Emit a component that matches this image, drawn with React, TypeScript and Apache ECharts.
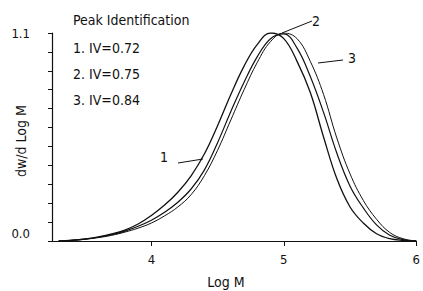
import React, { useEffect, useRef } from "react";
import * as echarts from "echarts";

const logM = [3.3, 3.4, 3.5, 3.6, 3.7, 3.8, 3.9, 4.0, 4.1, 4.2, 4.3, 4.4, 4.5, 4.6, 4.7, 4.8, 4.9, 5.0, 5.1, 5.2, 5.3, 5.4, 5.5, 5.6, 5.7, 5.8, 5.9, 6.0];
const iv072 = [0, 0.004, 0.011, 0.022, 0.037, 0.058, 0.09, 0.135, 0.19, 0.258, 0.345, 0.46, 0.61, 0.775, 0.925, 1.04, 1.1, 1.07, 0.95, 0.785, 0.55, 0.33, 0.18, 0.095, 0.038, 0.012, 0.003, 0];
const iv075 = [0, 0.004, 0.01, 0.02, 0.033, 0.052, 0.078, 0.11, 0.152, 0.205, 0.275, 0.375, 0.52, 0.685, 0.84, 0.975, 1.07, 1.095, 1.02, 0.87, 0.68, 0.465, 0.29, 0.175, 0.085, 0.03, 0.007, 0];
const iv084 = [0, 0.003, 0.009, 0.018, 0.03, 0.047, 0.068, 0.095, 0.133, 0.18, 0.245, 0.345, 0.48, 0.64, 0.8, 0.945, 1.055, 1.1, 1.07, 0.95, 0.775, 0.545, 0.355, 0.215, 0.115, 0.045, 0.012, 0];
const xTicks = [4, 5, 6];
const legendTitle = "Peak Identification";
const legendItems = ["1. IV=0.72", "2. IV=0.75", "3. IV=0.84"];
const curveLabels = ["1", "2", "3"];

const FONT = "'DejaVu Sans Condensed', 'Liberation Sans Narrow', sans-serif";

export default function App() {
  const ref = useRef<HTMLDivElement>(null);
  useEffect(() => {
    if (!ref.current) return;
    const chart = echarts.init(ref.current, null, { renderer: "svg" });
    const mk = (vals: number[], w: number) => ({
      type: "line",
      data: logM.map((x, i) => [x, vals[i]]),
      smooth: 0.4,
      symbol: "none",
      lineStyle: { color: "#111", width: w },
      silent: true,
    });
    const txt = (t: string, x: number, y: number, size = 13, align = "left") => ({
      type: "text",
      x,
      y,
      style: { text: t, fill: "#111", font: `${size}px ${FONT}`, textAlign: align, textVerticalAlign: "middle" },
    });
    const ln = (x1: number, y1: number, x2: number, y2: number) => ({
      type: "line",
      shape: { x1, y1, x2, y2 },
      style: { stroke: "#111", lineWidth: 1 },
    });
    chart.setOption({
      animation: false,
      grid: { left: 52, right: 3, top: 33, bottom: 50, containLabel: false },
      xAxis: {
        type: "value",
        min: 3.25,
        max: 6,
        axisLine: { lineStyle: { color: "#111", width: 1.2 } },
        axisTick: { show: true, length: 5, customValues: xTicks, lineStyle: { color: "#111" } },
        axisLabel: { customValues: xTicks, color: "#111", fontSize: 13, fontFamily: FONT, margin: 12 },
        splitLine: { show: false },
      },
      yAxis: {
        type: "value",
        min: 0,
        max: 1.1,
        interval: 0.1,
        axisLine: { show: true, lineStyle: { color: "#111", width: 1.2 } },
        axisTick: { show: true, length: 4, lineStyle: { color: "#111" } },
        axisLabel: {
          color: "#111",
          fontSize: 13,
          fontFamily: FONT,
          margin: 22,
          showMaxLabel: true,
          formatter: (v: number) => (Math.abs(v) < 1e-6 ? "{z|0.0}" : Math.abs(v - 1.1) < 1e-6 ? "1.1" : ""),
          rich: { z: { fontSize: 13, fontFamily: FONT, color: "#111", padding: [0, 0, 16, 0] } },
        },
        splitLine: { show: false },
      },
      series: [mk(iv072, 1.3), mk(iv075, 1.2), mk(iv084, 1.0)],
      graphic: [
        txt(legendTitle, 73, 20, 14),
        txt(legendItems[0], 73, 48, 14),
        txt(legendItems[1], 73, 74, 14),
        txt(legendItems[2], 73, 100, 14),
        txt("Log M", 226, 282, 14, "center"),
        {
          type: "text",
          x: 21,
          y: 141,
          rotation: Math.PI / 2,
          style: { text: "dw/d Log M", fill: "#111", font: `14px ${FONT}`, textAlign: "center", textVerticalAlign: "middle" },
        },
        ln(178, 163, 203, 159),
        txt(curveLabels[0], 164, 157, 14, "center"),
        ln(282, 33, 312, 21),
        txt(curveLabels[1], 316, 21, 14, "center"),
        ln(318, 63, 343, 60),
        txt(curveLabels[2], 352, 58, 14, "center"),
      ],
    });
    return () => chart.dispose();
  }, []);
  return <div ref={ref} style={{ width: 423, height: 291, position: "absolute", left: 0, top: 0, background: "#fff" }} />;
}
